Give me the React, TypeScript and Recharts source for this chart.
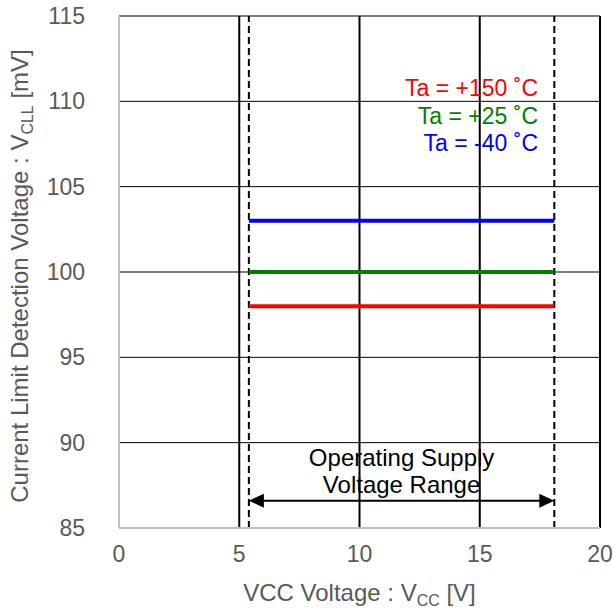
import { LineChart, Line, XAxis, YAxis, CartesianGrid, ReferenceLine, ReferenceDot, Label } from 'recharts';

// VCC sweep endpoints (operating supply range) and detection voltage per temperature
const vcc = [5.4, 18.1];
const vcl150 = [98, 98];
const vcl25 = [100, 100];
const vclm40 = [103, 103];

const xTicks = [0, 5, 10, 15, 20];
const yTicks = [85, 90, 95, 100, 105, 110, 115];
const gridX = [5, 10, 15, 20];

const rangeMin = 5.4;
const rangeMax = 18.1;
const arrowLevel = 86.6;

const legendText = ['Ta = +150 ˚C', 'Ta = +25 ˚C', 'Ta = -40 ˚C'];
const legendColor = ['#ff0000', '#008000', '#0000ff'];
const legendY = [110.8, 109.15, 107.55];
const legendX = 17.63;

const FONT = '"Liberation Sans", Arial, sans-serif';
const TEXT = '#595959';

const data = vcc.map((v, i) => ({ vcc: v, t150: vcl150[i], t25: vcl25[i], tm40: vclm40[i] }));

function RangeArrow(props: any) {
  const { x1, y1, x2 } = props;
  const y = y1;
  const cx = (x1 + x2) / 2;
  return (
    <g>
      <line x1={x1 + 12} y1={y} x2={x2 - 12} y2={y} stroke="#000" strokeWidth={2} />
      <polygon points={`${x1},${y} ${x1 + 15},${y - 7} ${x1 + 15},${y + 7}`} fill="#000" />
      <polygon points={`${x2},${y} ${x2 - 15},${y - 7} ${x2 - 15},${y + 7}`} fill="#000" />
      <text x={cx} y={y - 43} textAnchor="middle" dominantBaseline="central" fontSize={24} fill="#000" fontFamily={FONT}>
        Operating Supply
      </text>
      <text x={cx} y={y - 16} textAnchor="middle" dominantBaseline="central" fontSize={24} fill="#000" fontFamily={FONT}>
        Voltage Range
      </text>
    </g>
  );
}

function XTitle(props: any) {
  const { viewBox } = props;
  const cx = viewBox.x + viewBox.width / 2;
  return (
    <text x={cx} y={601} textAnchor="middle" fontSize={24} fill={TEXT} fontFamily={FONT}>
      VCC Voltage : V
      <tspan fontSize={16} dy={5}>CC</tspan>
      <tspan dy={-5}> [V]</tspan>
    </text>
  );
}

function YTitle(props: any) {
  const { viewBox } = props;
  const cy = viewBox.y + viewBox.height / 2 + 4;
  const x = 28;
  return (
    <text x={x} y={cy} transform={`rotate(-90, ${x}, ${cy})`} textAnchor="middle" fontSize={24} fill={TEXT} fontFamily={FONT}>
      Current Limit Detection Voltage : V
      <tspan fontSize={16} dy={5}>CLL</tspan>
      <tspan dy={-5}> [mV]</tspan>
    </text>
  );
}

export default function App() {
  return (
    <div style={{ position: 'absolute', left: 0, top: 0, width: 615, height: 613, background: '#fff', fontFamily: FONT }}>
      <LineChart width={615} height={613} data={data} margin={{ top: 16, right: 15, left: 0, bottom: 0 }}>
        <CartesianGrid vertical={false} stroke="#000" strokeWidth={1} />
        <XAxis
          dataKey="vcc"
          type="number"
          domain={[0, 20]}
          ticks={xTicks}
          height={85}
          tickLine={false}
          axisLine={{ stroke: '#bfbfbf', strokeWidth: 2 }}
          tick={{ fontSize: 23, fill: TEXT, fontFamily: FONT }}
          tickMargin={12}
        >
          <Label content={<XTitle />} />
        </XAxis>
        <YAxis
          type="number"
          domain={[85, 115]}
          ticks={yTicks}
          width={119}
          tickLine={false}
          axisLine={{ stroke: '#bfbfbf', strokeWidth: 2 }}
          tick={{ fontSize: 23, fill: TEXT, fontFamily: FONT }}
          tickMargin={28}
        >
          <Label content={<YTitle />} />
        </YAxis>
        {gridX.map(v => (
          <ReferenceLine key={v} x={v} stroke="#000" strokeWidth={2} />
        ))}
        <ReferenceLine x={rangeMin} stroke="#000" strokeWidth={2} strokeDasharray="7 4" />
        <ReferenceLine x={rangeMax} stroke="#000" strokeWidth={2} strokeDasharray="7 4" />
        <ReferenceLine
          segment={[{ x: rangeMin, y: arrowLevel }, { x: rangeMax, y: arrowLevel }]}
          shape={<RangeArrow />}
        />
        <Line dataKey="t150" stroke="#ff0000" strokeWidth={4} dot={false} isAnimationActive={false} />
        <Line dataKey="t25" stroke="#008000" strokeWidth={4} dot={false} isAnimationActive={false} />
        <Line dataKey="tm40" stroke="#0000ff" strokeWidth={4} dot={false} isAnimationActive={false} />
        {legendText.map((t, i) => (
          <ReferenceDot
            key={t}
            x={legendX}
            y={legendY[i]}
            r={0}
            stroke="none"
            label={{ value: t, position: 'left', fill: legendColor[i], fontSize: 23, fontFamily: FONT }}
          />
        ))}
      </LineChart>
    </div>
  );
}
